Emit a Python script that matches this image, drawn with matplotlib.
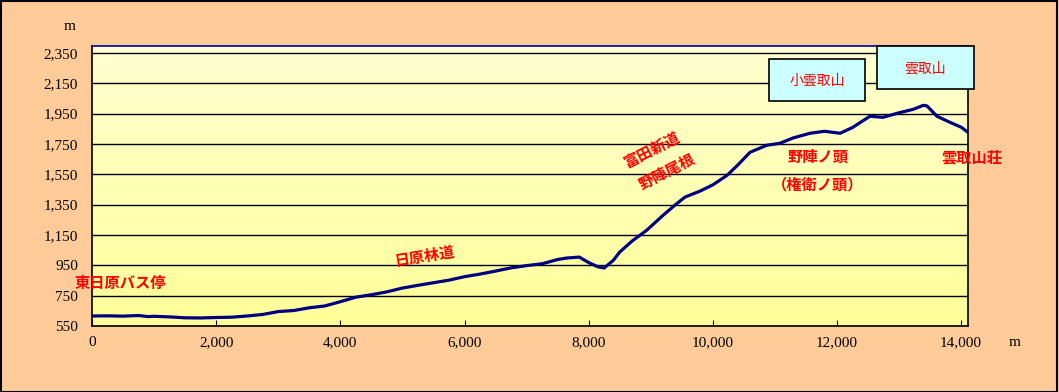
import matplotlib
matplotlib.use("Agg")
import matplotlib.pyplot as plt
import numpy as np
from matplotlib.patches import Rectangle
from matplotlib.ticker import FuncFormatter
from matplotlib.colors import LinearSegmentedColormap

distance = [0, 250, 500, 750, 900, 1000, 1250, 1500, 1750, 2000, 2250, 2500,
            2750, 3000, 3250, 3500, 3750, 4000, 4250, 4500, 4750, 5000, 5250,
            5500, 5750, 6000, 6250, 6500, 6750, 7000, 7250, 7500, 7650, 7850,
            8000, 8150, 8250, 8400, 8500, 8700, 8935, 9200, 9400, 9550, 9800,
            10000, 10230, 10400, 10600, 10870, 11080, 11300, 11565, 11800,
            12050, 12250, 12530, 12740, 13000, 13230, 13390, 13450, 13610,
            13820, 14000, 14110]
elevation = [616, 617, 615, 619, 612, 614, 610, 604, 603, 606, 608, 616,
             626, 645, 652, 670, 682, 710, 740, 756, 775, 800, 818,
             835, 852, 875, 892, 912, 933, 948, 960, 988, 998, 1004,
             968, 940, 932, 984, 1037, 1110, 1181, 1280, 1350, 1399, 1440,
             1480, 1543, 1610, 1695, 1741, 1754, 1790, 1820, 1833,
             1820, 1858, 1932, 1925, 1955, 1978, 2004, 2000, 1932,
             1892, 1860, 1826]

yticks = [550, 750, 950, 1150, 1350, 1550, 1750, 1950, 2150, 2350]
xticks = [0, 2000, 4000, 6000, 8000, 10000, 12000, 14000]

place_labels = ["東日原バス停", "日原林道", "富田新道", "野陣尾根", "野陣ノ頭",
                "（権衛ノ頭）", "雲取山荘"]
box_labels = ["小雲取山", "雲取山"]

W, H = 1059, 392
fig = plt.figure(figsize=(W / 100, H / 100), dpi=100)
fig.patch.set_facecolor("#FFCC99")

def fx(x):
    return x / W

def fy(y):
    return 1 - y / H

ax = fig.add_axes([fx(92), fy(326), fx(968) - fx(92), fy(46) - fy(326)])
ax.set_xlim(0, 14110)
ax.set_ylim(550, 2395)

# gradient background
grad = np.linspace(0, 1, 256).reshape(-1, 1)
cmap = LinearSegmentedColormap.from_list("bg", ["#FFFF99", "#FFFFD2"])
ax.imshow(grad, aspect="auto", cmap=cmap, origin="lower",
          extent=[0, 14110, 550, 2395], zorder=0)

for yv in yticks:
    ax.axhline(yv, color="black", lw=1.0, zorder=1)

ax.plot(distance, elevation, color="#000080", lw=2.3, zorder=3,
        solid_joinstyle="round")

for s in ["left", "bottom", "right"]:
    ax.spines[s].set_color("black")
    ax.spines[s].set_linewidth(1.2)
ax.spines["top"].set_color("#0000A0")
ax.spines["top"].set_linewidth(1.2)

ax.set_yticks(yticks)
ax.set_xticks(xticks)
fmt = FuncFormatter(lambda v, p: f"{int(v):,}")
ax.yaxis.set_major_formatter(fmt)
ax.xaxis.set_major_formatter(fmt)
ax.tick_params(axis="y", length=0, pad=10)
ax.tick_params(axis="x", direction="in", length=4, pad=7)
for lab in ax.get_xticklabels() + ax.get_yticklabels():
    lab.set_fontfamily("Liberation Serif")
    lab.set_fontsize(11)

fig.text(fx(70), fy(26), "m", fontsize=11, family="Liberation Serif",
         ha="center", va="center")
fig.text(fx(1015), fy(343), "m", fontsize=11, family="Liberation Serif",
         ha="center", va="center")

jp = ["Noto Sans CJK JP", "DejaVu Sans"]
red = "#FF0000"
pos = [(120, 283, 0), (425, 256, 9), (652, 150, 27), (667, 172, 27),
       (818, 157, 0), (818, 184, 0), (972, 157, 0)]
for t, (x, y, r) in zip(place_labels, pos):
    fig.text(fx(x), fy(y), t, family=jp, fontsize=11, color=red,
             fontweight="bold", ha="center", va="center", rotation=r,
             rotation_mode="anchor")

boxes = [(769, 59, 865, 101), (877, 46, 974, 89)]
for t, (x0, y0, x1, y1) in zip(box_labels, boxes):
    fig.add_artist(Rectangle((fx(x0), fy(y1)), fx(x1) - fx(x0), fy(y0) - fy(y1),
                             transform=fig.transFigure, facecolor="#CCFFFF",
                             edgecolor="black", lw=1.2, zorder=5))
    fig.text(fx((x0 + x1) / 2), fy((y0 + y1) / 2 + 1), t, family=jp,
             fontsize=10, color=red, ha="center", va="center", zorder=6)

fig.add_artist(Rectangle((0.0005, 0.001), 0.998, 0.997, transform=fig.transFigure,
                         facecolor="none", edgecolor="black", lw=1.5, zorder=10))

fig.savefig("out.png", dpi=100, facecolor=fig.get_facecolor())
